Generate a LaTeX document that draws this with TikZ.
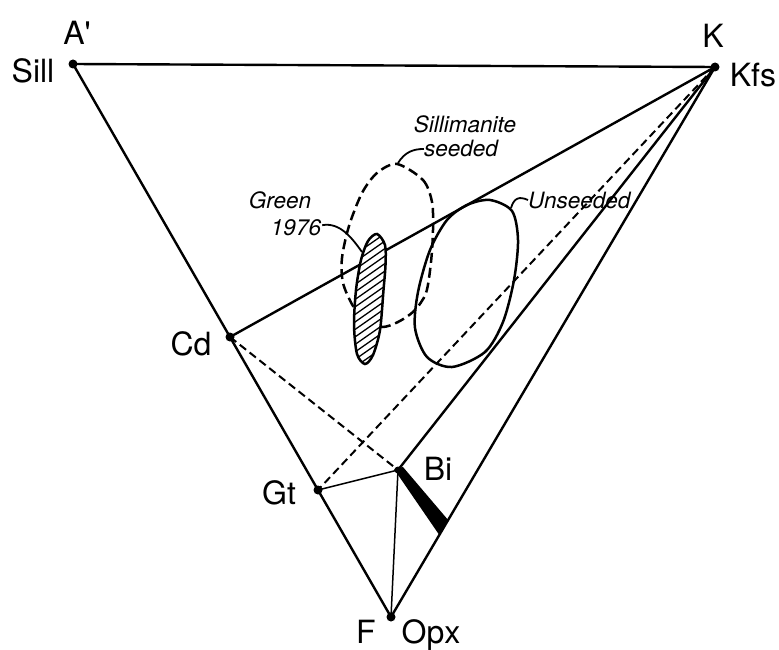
\documentclass[tikz,border=0pt]{standalone}
\usepackage{fontspec}
\setmainfont{TeX Gyre Heros}
\begin{document}
\begin{tikzpicture}[x=1pt,y=-1pt,
  edge/.style={line width=2.4pt},
  thinline/.style={line width=1.5pt},
  dashline/.style={line width=2pt, dash pattern=on 8pt off 4.5pt},
  outline/.style={line width=2.5pt},
  lbl/.style={font=\fontsize{32}{36}\selectfont, inner sep=0pt, anchor=base},
  ilbl/.style={font=\fontsize{22.5}{26}\selectfont\itshape, inner sep=0pt, anchor=base},
  leader/.style={line width=1.8pt},
  dot/.style={circle, fill=black, inner sep=0pt, minimum size=9pt}]
\useasboundingbox (0,0) rectangle (779,650);

% vertices and points
\coordinate (A) at (73,64);
\coordinate (K) at (715,67);
\coordinate (F) at (391,617);
\coordinate (Cd) at (230,337);
\coordinate (Gt) at (318,490);
\coordinate (Bi) at (398,470);

% triangle
\draw[edge, line join=round] (A) -- (K) -- (F) -- cycle;

% tie lines
\draw[edge] (K) -- (Cd);
\draw[edge] (K) -- (Bi);
\draw[dashline] (K) -- (Gt);
\draw[dashline] (Cd) -- (Bi);
\draw[thinline] (Gt) -- (Bi);
\draw[thinline] (Bi) -- (F);

% biotite band
\fill (394,469) -- (403,467) -- (448.1,520) -- (439.3,535) -- cycle;

% sillimanite seeded (dashed)
\draw[outline, dash pattern=on 10pt off 5pt] plot[smooth cycle] coordinates {
  (397,164) (423,180) (432,202) (433,230) (431,262) (426,293) (414,311)
  (398,322) (382,327) (365,320) (353,306) (343,283) (342,258) (349,226)
  (362,193) (377,173)};

% unseeded
\draw[outline] plot[smooth cycle] coordinates {
  (490,200) (512,211) (518,240) (514,280) (503,322) (485,352)
  (452,367) (427,357) (415,328) (418,292) (430,250) (447,220) (467,205)};

% Green 1976 hatched
\def\greenpath{plot[smooth cycle] coordinates {
  (377,234) (385,245) (385.5,265) (383.5,290) (380,330) (373,355) (365,364)
  (357,354) (354,325) (356,290) (361,260) (368,241)}}
\fill[white] \greenpath;
\begin{scope}
  \clip \greenpath;
  \foreach \c in {220,227.5,...,460} {
    \draw[line width=1.3pt] (340,\c) -- (400,\c-42);
  }
\end{scope}
\draw[outline] \greenpath;

% dots
\node[dot] (dA) at (A) {};
\node[dot] (dK) at (K) {};
\node[dot] (dF) at (F) {};
\node[dot] (dCd) at (Cd) {};
\node[dot] (dGt) at (Gt) {};
\node[dot, minimum size=7pt] (dBi) at (Bi) {};

% labels
\node[lbl] (lA) at (77,45) {A\textquotesingle};
\node[lbl] (lSill) at (33,83) {Sill};
\node[lbl] (lK) at (713,48) {K};
\node[lbl] (lKfs) at (753,87) {Kfs};
\node[lbl] (lCd) at (191,355) {Cd};
\node[lbl] (lGt) at (279,504) {Gt};
\node[lbl] (lBi) at (438,480) {Bi};
\node[lbl] (lF) at (366,643) {F};
\node[lbl] (lOpx) at (431,643) {Opx};

\node[ilbl] (lSil) at (465,132) {Sillimanite};
\node[ilbl] (lSeed) at (461,157) {seeded};
\node[ilbl] (lGreen) at (280,208) {Green};
\node[ilbl] (l1976) at (296,235) {1976};
\node[ilbl, anchor=base west] (lUns) at (528,208) {Unseeded};

% leaders
\coordinate (gs) at (362,252);
\coordinate (ss) at (398,163);
\coordinate (us) at (511,208);
\draw[leader] (l1976.east) ++(1,-2) .. controls (340,222) and (352,238) .. (gs);
\draw[leader] (ss) .. controls (405,152) and (413,149) .. (lSeed.west);
\draw[leader] (us) .. controls (514,198) and (519,196) .. (lUns.west);
\end{tikzpicture}
\end{document}
